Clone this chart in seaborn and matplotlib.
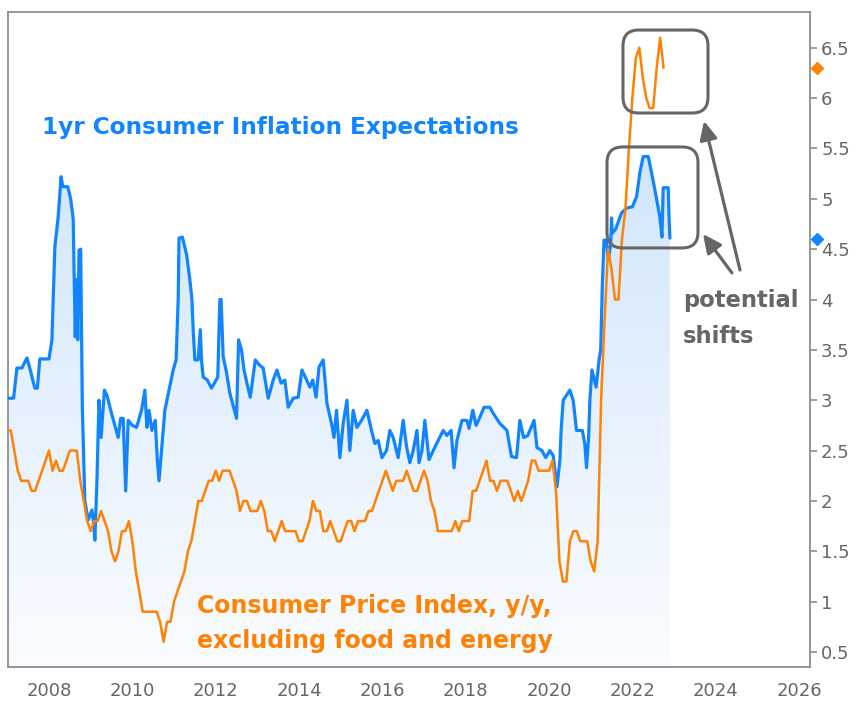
import numpy as np
import pandas as pd
import matplotlib
matplotlib.use("Agg")
import matplotlib.pyplot as plt
import seaborn as sns
from matplotlib.patches import FancyBboxPatch

# ---------------- data ----------------
# 1yr consumer inflation expectations (decimal year, percent)
exp_years = [
    2007.04, 2007.15, 2007.23, 2007.35, 2007.47, 2007.55, 2007.66, 2007.72, 2007.78, 2008.00,
    2008.07, 2008.10, 2008.14, 2008.22, 2008.29, 2008.33, 2008.45, 2008.52, 2008.58, 2008.63,
    2008.66, 2008.69, 2008.72, 2008.76, 2008.80, 2008.86, 2008.94, 2009.03, 2009.08, 2009.10,
    2009.15, 2009.20, 2009.25, 2009.33, 2009.39, 2009.50, 2009.66, 2009.72, 2009.78, 2009.84,
    2009.90, 2010.00, 2010.10, 2010.22, 2010.30, 2010.35, 2010.40, 2010.47, 2010.55, 2010.60,
    2010.64, 2010.70, 2010.78, 2010.83, 2010.98, 2011.05, 2011.10, 2011.12, 2011.20, 2011.30,
    2011.38, 2011.43, 2011.46, 2011.50, 2011.58, 2011.63, 2011.66, 2011.70, 2011.80, 2011.90,
    2012.05, 2012.10, 2012.13, 2012.18, 2012.25, 2012.34, 2012.45, 2012.50, 2012.55, 2012.62,
    2012.68, 2012.75, 2012.83, 2012.95, 2013.05, 2013.14, 2013.26, 2013.38, 2013.47, 2013.57,
    2013.66, 2013.74, 2013.86, 2013.98, 2014.07, 2014.15, 2014.26, 2014.33, 2014.41, 2014.48,
    2014.58, 2014.63, 2014.67, 2014.78, 2014.84, 2014.90, 2014.98, 2015.06, 2015.15, 2015.22,
    2015.30, 2015.39, 2015.50, 2015.63, 2015.74, 2015.82, 2015.90, 2015.99, 2016.10, 2016.18,
    2016.26, 2016.38, 2016.50, 2016.58, 2016.66, 2016.74, 2016.83, 2016.88, 2016.95, 2017.02,
    2017.12, 2017.22, 2017.34, 2017.46, 2017.55, 2017.65, 2017.72, 2017.79, 2017.91, 2018.03,
    2018.08, 2018.17, 2018.25, 2018.34, 2018.44, 2018.58, 2018.66, 2018.82, 2018.99, 2019.10,
    2019.22, 2019.30, 2019.39, 2019.49, 2019.64, 2019.71, 2019.83, 2019.92, 2020.02, 2020.10,
    2020.19, 2020.26, 2020.29, 2020.34, 2020.50, 2020.58, 2020.66, 2020.80, 2020.86, 2020.90,
    2020.95, 2020.98, 2021.03, 2021.13, 2021.20, 2021.24, 2021.28, 2021.32, 2021.38, 2021.42,
    2021.48, 2021.50, 2021.52, 2021.60, 2021.74, 2021.87, 2022.00, 2022.10, 2022.18, 2022.26,
    2022.38, 2022.46, 2022.54, 2022.66, 2022.71, 2022.74, 2022.86, 2022.88, 2022.90,
]
exp_values = [
    3.02, 3.02, 3.32, 3.32, 3.42, 3.30, 3.12, 3.12, 3.41, 3.41,
    3.60, 4.00, 4.52, 4.82, 5.22, 5.12, 5.12, 5.00, 4.80, 3.63,
    4.20, 3.60, 4.49, 4.50, 2.93, 2.00, 1.81, 1.91, 1.75, 1.61,
    2.20, 3.00, 2.63, 3.10, 3.05, 2.87, 2.63, 2.82, 2.82, 2.10,
    2.80, 2.75, 2.73, 2.90, 3.10, 2.73, 2.90, 2.70, 2.80, 2.40,
    2.20, 2.50, 2.90, 3.00, 3.30, 3.40, 4.00, 4.61, 4.62, 4.45,
    4.20, 4.00, 3.70, 3.40, 3.40, 3.70, 3.40, 3.23, 3.20, 3.12,
    3.23, 4.00, 4.00, 3.43, 3.30, 3.07, 2.90, 2.82, 3.60, 3.50,
    3.30, 3.17, 3.03, 3.40, 3.35, 3.32, 3.02, 3.20, 3.30, 3.17,
    3.20, 2.93, 3.02, 3.03, 3.30, 3.23, 3.13, 3.20, 3.03, 3.33,
    3.40, 3.17, 2.97, 2.77, 2.63, 2.90, 2.43, 2.77, 3.00, 2.50,
    2.90, 2.73, 2.80, 2.90, 2.70, 2.57, 2.60, 2.43, 2.50, 2.70,
    2.63, 2.43, 2.80, 2.54, 2.38, 2.50, 2.70, 2.38, 2.50, 2.80,
    2.41, 2.50, 2.60, 2.70, 2.65, 2.70, 2.33, 2.60, 2.80, 2.80,
    2.72, 2.90, 2.75, 2.83, 2.93, 2.93, 2.87, 2.77, 2.70, 2.44,
    2.43, 2.80, 2.63, 2.65, 2.80, 2.53, 2.50, 2.43, 2.50, 2.45,
    2.14, 2.40, 2.70, 3.00, 3.10, 3.00, 2.70, 2.70, 2.56, 2.33,
    2.63, 3.00, 3.30, 3.13, 3.40, 3.50, 4.16, 4.59, 4.59, 4.39,
    4.55, 4.81, 4.66, 4.70, 4.86, 4.91, 4.92, 5.02, 5.26, 5.42,
    5.42, 5.26, 5.09, 4.82, 4.62, 5.11, 5.11, 4.82, 4.61,
]

# Core CPI y/y, monthly from Jan 2007 to Oct 2022 (percent)
cpi_start_year = 2007
cpi_values = [
    2.7, 2.7, 2.5, 2.3, 2.2, 2.2, 2.2, 2.1, 2.1, 2.2, 2.3, 2.4,
    2.5, 2.3, 2.4, 2.3, 2.3, 2.4, 2.5, 2.5, 2.5, 2.2, 2.0, 1.8,
    1.7, 1.8, 1.8, 1.9, 1.8, 1.7, 1.5, 1.4, 1.5, 1.7, 1.7, 1.8,
    1.6, 1.3, 1.1, 0.9, 0.9, 0.9, 0.9, 0.9, 0.8, 0.6, 0.8, 0.8,
    1.0, 1.1, 1.2, 1.3, 1.5, 1.6, 1.8, 2.0, 2.0, 2.1, 2.2, 2.2,
    2.3, 2.2, 2.3, 2.3, 2.3, 2.2, 2.1, 1.9, 2.0, 2.0, 1.9, 1.9,
    1.9, 2.0, 1.9, 1.7, 1.7, 1.6, 1.7, 1.8, 1.7, 1.7, 1.7, 1.7,
    1.6, 1.6, 1.7, 1.8, 2.0, 1.9, 1.9, 1.7, 1.7, 1.8, 1.7, 1.6,
    1.6, 1.7, 1.8, 1.8, 1.7, 1.8, 1.8, 1.8, 1.9, 1.9, 2.0, 2.1,
    2.2, 2.3, 2.2, 2.1, 2.2, 2.2, 2.2, 2.3, 2.2, 2.1, 2.1, 2.2,
    2.3, 2.2, 2.0, 1.9, 1.7, 1.7, 1.7, 1.7, 1.7, 1.8, 1.7, 1.8,
    1.8, 1.8, 2.1, 2.1, 2.2, 2.3, 2.4, 2.2, 2.2, 2.1, 2.2, 2.2,
    2.2, 2.1, 2.0, 2.1, 2.0, 2.1, 2.2, 2.4, 2.4, 2.3, 2.3, 2.3,
    2.3, 2.4, 2.1, 1.4, 1.2, 1.2, 1.6, 1.7, 1.7, 1.6, 1.6, 1.6,
    1.4, 1.3, 1.6, 3.0, 3.8, 4.5, 4.3, 4.0, 4.0, 4.6, 4.9, 5.5,
    6.0, 6.4, 6.5, 6.2, 6.0, 5.9, 5.9, 6.3, 6.6, 6.3,
]
cpi_years = [cpi_start_year + i / 12 for i in range(len(cpi_values))]

last_cpi = 6.3
last_exp = 4.6

x_ticks = [2008, 2010, 2012, 2014, 2016, 2018, 2020, 2022, 2024, 2026]
y_ticks = [0.5, 1, 1.5, 2, 2.5, 3, 3.5, 4, 4.5, 5, 5.5, 6, 6.5]

label_exp = "1yr Consumer Inflation Expectations"
label_cpi_1 = "Consumer Price Index, y/y,"
label_cpi_2 = "excluding food and energy"
label_note_1 = "potential"
label_note_2 = "shifts"

# ---------------- style ----------------
BLUE = "#1184ff"
ORANGE = "#ff8205"
GRAY = "#666666"
SPINE = "#8e8e8e"

sns.set_style("white")
plt.rcParams["font.family"] = ["DejaVu Sans"]

df_exp = pd.DataFrame({"year": exp_years, "value": exp_values})
df_cpi = pd.DataFrame({"year": cpi_years, "value": cpi_values})

fig = plt.figure(figsize=(8.58, 7.02), dpi=100)
ax = fig.add_axes([8 / 858, 35 / 702, 802 / 858, 655 / 702])

XLIM = (2007.016, 2026.263)
YLIM = (0.351, 6.855)
ax.set_xlim(*XLIM)
ax.set_ylim(*YLIM)

# gradient fill under the expectations line
poly = ax.fill_between(df_exp["year"], df_exp["value"], YLIM[0],
                       facecolor="none", edgecolor="none", zorder=1)
top_c = np.array([198, 224, 250]) / 255
bot_c = np.array([250, 252, 255]) / 255
t = np.linspace(0, 1, 256)[:, None]
grad = (top_c * (1 - t) + bot_c * t)[:, None, :]
im = ax.imshow(grad, extent=[XLIM[0], XLIM[1], YLIM[0], YLIM[1]],
               aspect="auto", origin="upper", zorder=1, interpolation="bilinear")
im.set_clip_path(poly.get_paths()[0], transform=ax.transData)

sns.lineplot(data=df_exp, x="year", y="value", ax=ax, color=BLUE,
             linewidth=2.3, zorder=3, sort=False, estimator=None)
sns.lineplot(data=df_cpi, x="year", y="value", ax=ax, color=ORANGE,
             linewidth=1.8, zorder=4, sort=False, estimator=None)
ax.set_xlim(*XLIM)
ax.set_ylim(*YLIM)

# last value markers outside the axes
ax.plot([2026.43], [last_cpi], marker="D", ms=6.5, color=ORANGE,
        clip_on=False, zorder=5, linestyle="none")
ax.plot([2026.43], [last_exp], marker="D", ms=6.5, color=BLUE,
        clip_on=False, zorder=5, linestyle="none")

# axes styling
for s in ax.spines.values():
    s.set_visible(True)
    s.set_color(SPINE)
    s.set_linewidth(1.3)
ax.set_xlabel("")
ax.set_ylabel("")
ax.set_xticks(x_ticks)
ax.set_xticklabels([str(v) for v in x_ticks])
ax.yaxis.tick_right()
ax.set_yticks(y_ticks)
ax.set_yticklabels([f"{v:g}" for v in y_ticks])
ax.tick_params(axis="both", which="major", direction="out", length=5,
               width=1.2, color=SPINE, labelcolor=GRAY, labelsize=13)
ax.tick_params(axis="x", pad=6)
ax.tick_params(axis="y", pad=3, left=False, right=True)
ax.grid(False)

# texts
ax.text(2007.825, 5.641, label_exp, color=BLUE, fontsize=16.7,
        fontweight="bold", ha="left", va="baseline", zorder=6)
ax.text(2011.552, 0.884, label_cpi_1, color=ORANGE, fontsize=17,
        fontweight="bold", ha="left", va="baseline", zorder=6)
ax.text(2011.552, 0.535, label_cpi_2, color=ORANGE, fontsize=17,
        fontweight="bold", ha="left", va="baseline", zorder=6)
ax.text(2023.215, 3.929, label_note_1, color=GRAY, fontsize=16.3,
        fontweight="bold", ha="left", va="baseline", zorder=6)
ax.text(2023.215, 3.565, label_note_2, color=GRAY, fontsize=16.3,
        fontweight="bold", ha="left", va="baseline", zorder=6)

# rounded highlight boxes
aspect = (41.67) / (100.7)
box_style = "round,pad=0,rounding_size=0.38"
ax.add_patch(FancyBboxPatch((2021.775, 5.852), 2.040, 0.824, boxstyle=box_style,
                            mutation_aspect=aspect, fill=False, edgecolor=GRAY,
                            linewidth=2.2, zorder=6))
ax.add_patch(FancyBboxPatch((2021.391, 4.512), 2.184, 1.003, boxstyle=box_style,
                            mutation_aspect=aspect, fill=False, edgecolor=GRAY,
                            linewidth=2.2, zorder=6))

# arrows
arrow_kw = dict(arrowstyle="-|>,head_length=0.8,head_width=0.38", color=GRAY,
                lw=2.3, mutation_scale=14, shrinkA=0, shrinkB=0)
ax.annotate("", xy=(2023.719, 5.773), xytext=(2024.583, 4.293),
            arrowprops=arrow_kw, zorder=6)
ax.annotate("", xy=(2023.695, 4.651), xytext=(2024.391, 4.264),
            arrowprops=arrow_kw, zorder=6)

fig.savefig("out.png", dpi=100, facecolor="white")
